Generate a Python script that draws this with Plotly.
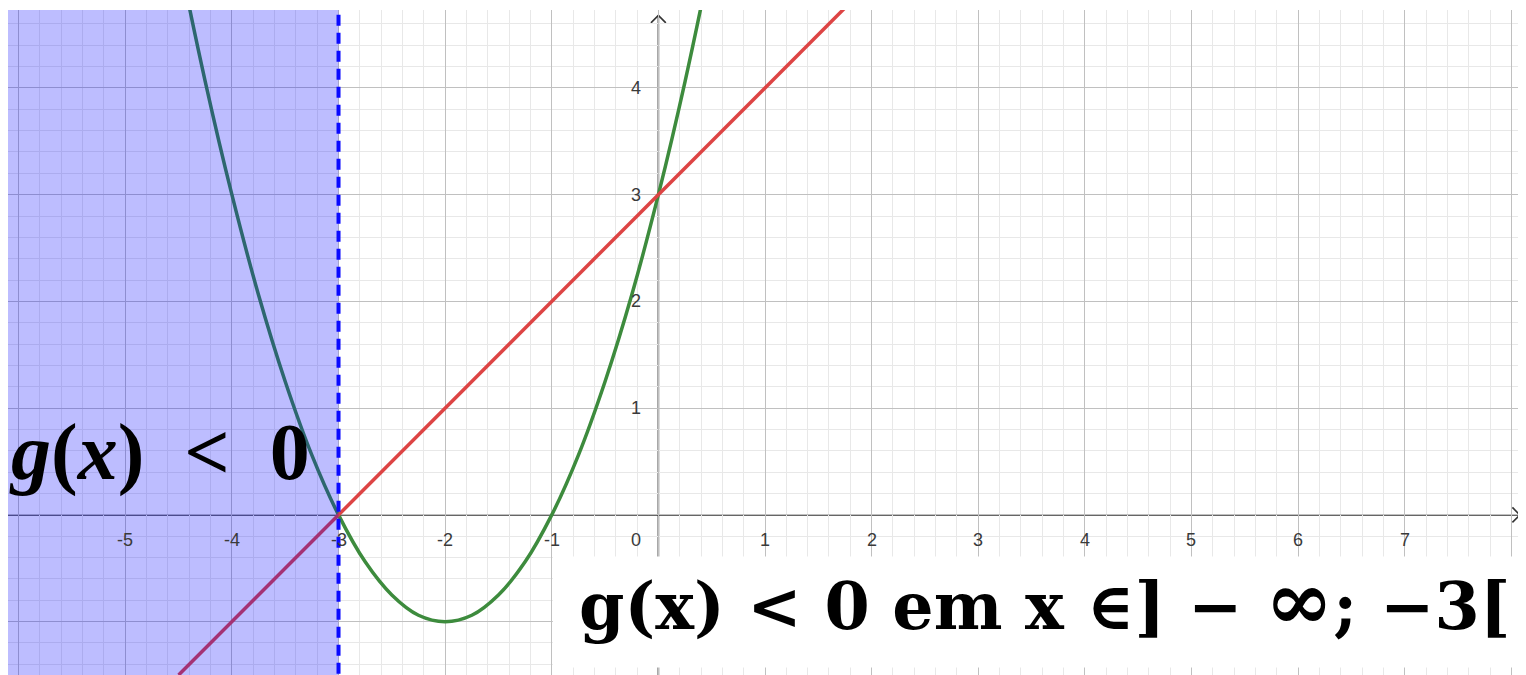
import plotly.graph_objects as go

# values
parab_x = [-5.0, -4.75, -4.5, -4.25, -4.0, -3.75, -3.5, -3.25, -3.0, -2.75, -2.5, -2.25,
           -2.0, -1.75, -1.5, -1.25, -1.0, -0.75, -0.5, -0.25, 0.0, 0.25, 0.5, 0.75]
parab_y = [8.0, 6.56, 5.25, 4.06, 3.0, 2.06, 1.25, 0.56, 0.0, -0.44, -0.75, -0.94,
           -1.0, -0.94, -0.75, -0.44, 0.0, 0.56, 1.25, 2.06, 3.0, 4.06, 5.25, 6.56]
line_x = [-4.5, 1.75]
line_y = [-1.5, 4.75]
root_x = -3
x_ticks = [-5, -4, -3, -2, -1, 1, 2, 3, 4, 5, 6, 7]
x_tick_labels = ["-5", "-4", "-3", "-2", "-1", "1", "2", "3", "4", "5", "6", "7"]
y_ticks = [1, 2, 3, 4]
y_tick_labels = ["1", "2", "3", "4"]

xr = [-6.10, 8.10]
yr = [-1.50, 4.73]

fig = go.Figure()
fig.add_trace(go.Scatter(x=parab_x, y=parab_y, mode="lines", line_shape="spline",
                         line=dict(color="#3d8b3d", width=3.5), hoverinfo="skip"))
fig.add_trace(go.Scatter(x=line_x, y=line_y, mode="lines",
                         line=dict(color="#dd4444", width=3.5), hoverinfo="skip"))

# shaded region g(x) < 0 side and dashed boundary
fig.add_shape(type="rect", x0=xr[0] - 1, x1=root_x, y0=yr[0] - 1, y1=yr[1] + 1,
              fillcolor="rgba(0,0,255,0.26)", line_width=0, layer="above")
fig.add_shape(type="line", x0=root_x, x1=root_x, y0=yr[0] - 1, y1=yr[1] + 1,
              line=dict(color="#0a0aff", width=4, dash="11px,7px"), layer="above")

# axes with arrows
fig.add_shape(type="line", x0=xr[0], x1=xr[1] - 0.02, y0=0, y1=0,
              line=dict(color="#333333", width=1.6), layer="below")
fig.add_shape(type="line", x0=0, x1=0, y0=yr[0], y1=yr[1] - 0.05,
              line=dict(color="#333333", width=1.6), layer="below")
fig.add_shape(type="path", path=f"M {xr[1]-0.09},0.07 L {xr[1]-0.02},0 L {xr[1]-0.09},-0.07",
              line=dict(color="#333333", width=1.6), layer="below")
fig.add_shape(type="path", path=f"M -0.07,{yr[1]-0.12} L 0,{yr[1]-0.05} L 0.07,{yr[1]-0.12}",
              line=dict(color="#333333", width=1.6), layer="below")

# white box behind the conclusion
fig.add_shape(type="rect", x0=-0.99, x1=xr[1] + 1, y0=-1.43, y1=-0.39,
              fillcolor="white", line_width=0, layer="above")

tick_font = dict(family="Liberation Sans, Arial", size=18, color="#3a3a3a")
for v, t in zip(x_ticks, x_tick_labels):
    fig.add_annotation(x=v, y=0, text=t, showarrow=False, yshift=-25, font=tick_font)
for v, t in zip(y_ticks, y_tick_labels):
    fig.add_annotation(x=0, y=v, text=t, showarrow=False, xshift=-22, font=tick_font)
fig.add_annotation(x=0, y=0, text="0", showarrow=False, xshift=-22, yshift=-25, font=tick_font)

fig.add_annotation(x=-4.68, y=0.58, showarrow=False,
                   text="<b><i>g</i>(<i>x</i>)&nbsp;&nbsp;&lt;&nbsp;&nbsp;0</b>",
                   font=dict(family="Liberation Serif", size=80, color="black"))
fig.add_annotation(x=3.62, y=-0.80, showarrow=False,
                   text="<b>g(x)&nbsp;&lt;&nbsp;0 em x&nbsp;∈]&nbsp;−&nbsp;"
                        "<span style='font-size:82px'>∞</span>;&nbsp;−3[</b>",
                   font=dict(family="DejaVu Serif", size=65, color="black"))

fig.update_layout(
    width=1518, height=667,
    margin=dict(l=0, r=4, t=2, b=0),
    paper_bgcolor="white", plot_bgcolor="white",
    showlegend=False,
    xaxis=dict(range=xr, dtick=1, tick0=0, showticklabels=False, zeroline=False,
               showgrid=True, gridcolor="#c0c0c0", gridwidth=1.4,
               minor=dict(dtick=0.2, showgrid=True, gridcolor="#e8e8e8", gridwidth=1)),
    yaxis=dict(range=yr, dtick=1, tick0=0, showticklabels=False, zeroline=False,
               showgrid=True, gridcolor="#c0c0c0", gridwidth=1.4,
               minor=dict(dtick=0.2, showgrid=True, gridcolor="#e8e8e8", gridwidth=1)),
)

fig.write_html("out.html")
